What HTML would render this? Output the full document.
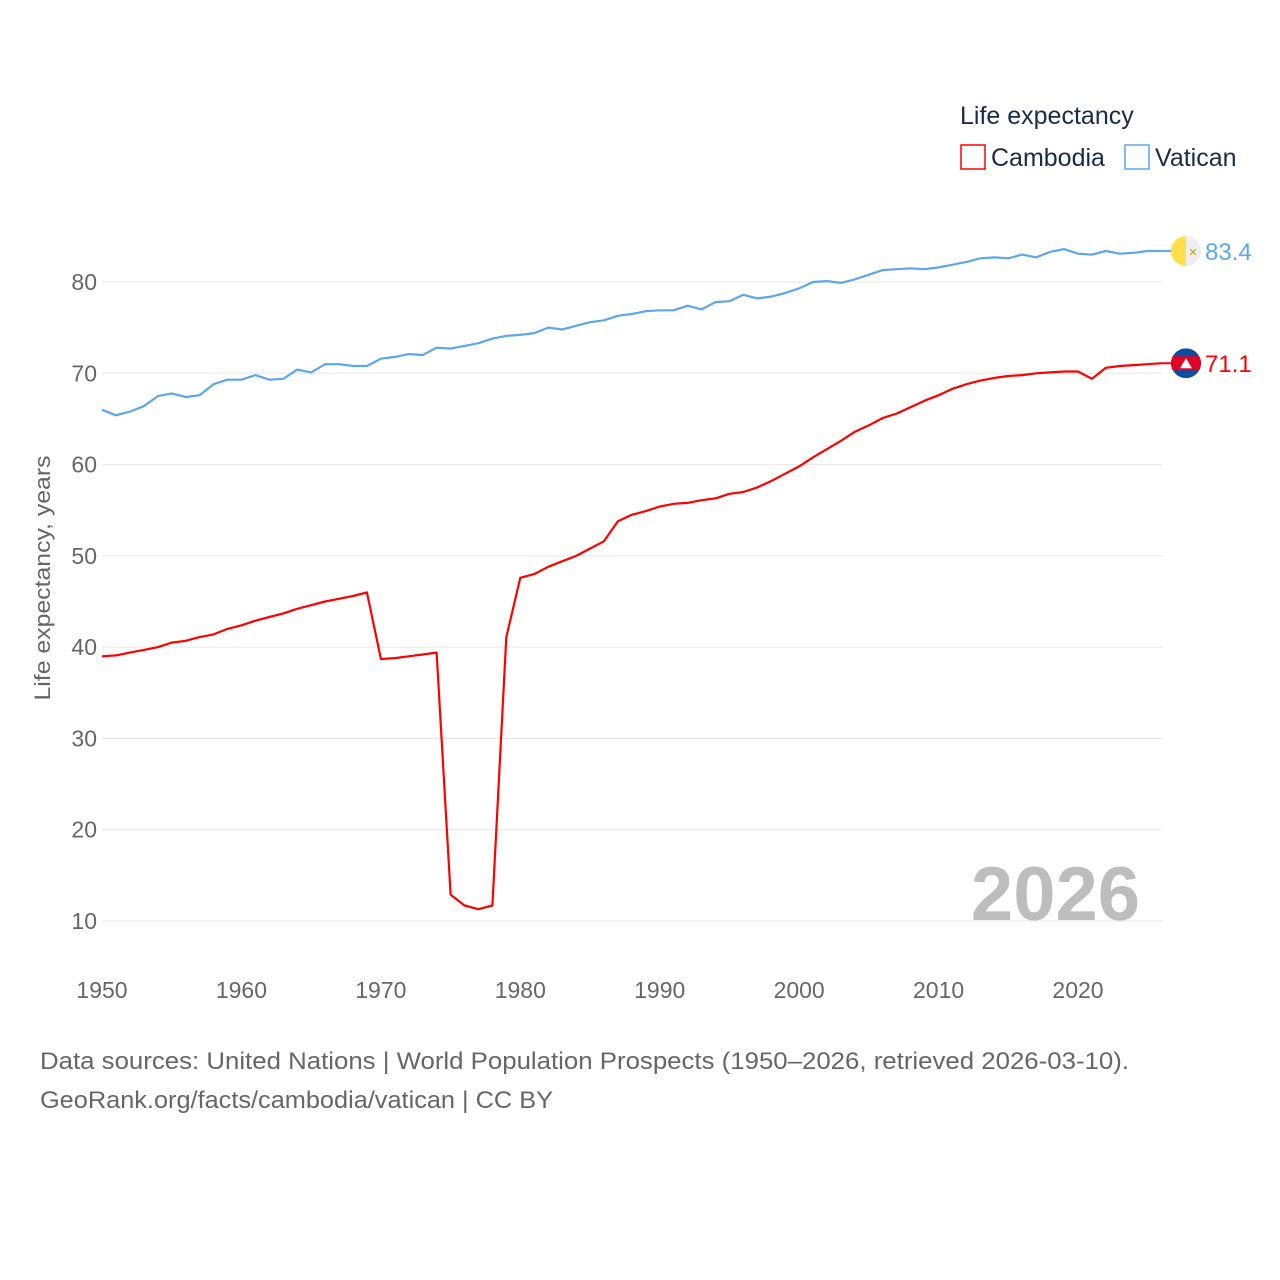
<!DOCTYPE html>
<html><head><meta charset="utf-8"><style>
html,body{margin:0;padding:0;background:#fff;}
svg{display:block;font-family:"Liberation Sans",sans-serif;}
</style></head><body>
<svg id="chart" width="1280" height="1280" viewBox="0 0 1280 1280">
<defs>
<clipPath id="clipV"><circle cx="1186" cy="250" r="15"/></clipPath>
<clipPath id="clipC"><circle cx="1186" cy="363" r="15"/></clipPath>
</defs>
<g id="grid"></g>
<g id="yticks"></g>
<g id="xticks"></g>
<text x="50" y="578" transform="rotate(-90 50 578)" text-anchor="middle" font-size="22" fill="#666" textLength="245" lengthAdjust="spacingAndGlyphs">Life expectancy, years</text>
<text x="1140" y="920" text-anchor="end" font-size="76" font-weight="bold" fill="#bdbdbd">2026</text>
<g id="lines"></g>
<g>
<text x="960" y="124" font-size="25" fill="#1a2b45">Life expectancy</text>
<g>
<rect x="961" y="145" width="24" height="24" fill="none" stroke="#ff0000" stroke-width="1.5"/>
<text x="991" y="166" font-size="25" fill="#1a2b45">Cambodia</text></g>
<g>
<rect x="1125" y="145" width="24" height="24" fill="none" stroke="#5ea6ea" stroke-width="1.5"/>
<text x="1155" y="166" font-size="25" fill="#1a2b45">Vatican</text></g>
</g>
<text x="40" y="1069" font-size="24" fill="#666" textLength="1089" lengthAdjust="spacingAndGlyphs">Data sources: United Nations | World Population Prospects (1950–2026, retrieved 2026-03-10).</text>
<text x="40" y="1108" font-size="24" fill="#666" textLength="513" lengthAdjust="spacingAndGlyphs">GeoRank.org/facts/cambodia/vatican | CC BY</text>
</svg>
<script>
const years = [];
for (let y = 1950; y <= 2026; y++) years.push(y);
const cambodia = [39.0,39.1,39.4,39.7,40.0,40.5,40.7,41.1,41.4,42.0,42.4,42.9,43.3,43.7,44.2,44.6,45.0,45.3,45.6,46.0,
38.7,38.8,39.0,39.2,39.4,12.9,11.7,11.3,11.7,41.1,47.6,48.0,48.8,49.4,50.0,50.8,51.6,53.8,54.5,54.9,
55.4,55.7,55.8,56.1,56.3,56.8,57.0,57.5,58.2,59.0,59.8,60.8,61.7,62.6,63.6,64.3,65.1,65.6,66.3,67.0,
67.6,68.3,68.8,69.2,69.5,69.7,69.8,70.0,70.1,70.2,70.2,69.4,70.6,70.8,70.9,71.0,71.1];
const vatican = [66.0,65.4,65.8,66.4,67.5,67.8,67.4,67.6,68.8,69.3,69.3,69.8,69.3,69.4,70.4,70.1,71.0,71.0,70.8,70.8,
71.6,71.8,72.1,72.0,72.8,72.7,73.0,73.3,73.8,74.1,74.2,74.4,75.0,74.8,75.2,75.6,75.8,76.3,76.5,76.8,
76.9,76.9,77.4,77.0,77.8,77.9,78.6,78.2,78.4,78.8,79.3,80.0,80.1,79.9,80.3,80.8,81.3,81.4,81.5,81.4,
81.6,81.9,82.2,82.6,82.7,82.6,83.0,82.7,83.3,83.6,83.1,83.0,83.4,83.1,83.2,83.4,83.4];
const yTicks = [10,20,30,40,50,60,70,80];
const xTicks = [1950,1960,1970,1980,1990,2000,2010,2020];
const NS = "http://www.w3.org/2000/svg";
const X = y => 102 + (y - 1950) * 13.943;
const Y = v => 282 + (80 - v) * 9.129;
function mk(tag, attrs, parent){const e=document.createElementNS(NS,tag);for(const k in attrs)e.setAttribute(k,attrs[k]);parent.appendChild(e);return e;}
const grid=document.getElementById('grid'), yt=document.getElementById('yticks'), xt=document.getElementById('xticks'), lines=document.getElementById('lines');
yTicks.forEach(v=>{
  const l=mk('line',{x1:102,x2:1162,y1:Y(v),y2:Y(v),stroke:'#e6e6e6','stroke-width':1},grid);
  
  
  const t=mk('text',{x:97,y:Y(v)+8,'text-anchor':'end','font-size':23,fill:'#666'},yt);
  t.textContent=v;
  
  
});
xTicks.forEach(v=>{
  const t=mk('text',{x:X(v),y:998,'text-anchor':'middle','font-size':23,fill:'#666'},xt);
  t.textContent=v;
  
  
});
function series(vals,color,name){
  const d=vals.map((v,i)=>(i?'L':'M')+X(years[i]).toFixed(1)+','+Y(v).toFixed(1)).join(' ');
  const p=mk('path',{d:d,fill:'none',stroke:color,'stroke-width':2.2,'stroke-linejoin':'round'},lines);
  
  
  const last=vals[vals.length-1], ly=Y(last);
  mk('line',{x1:X(2026),x2:1176,y1:ly,y2:ly,stroke:color,'stroke-width':2},lines);
  return ly;
}
const vy=series(vatican,'#5ea6ea','vatican');
const cy=series(cambodia,'#ff0000','cambodia');
document.querySelector('#clipV circle').setAttribute('cy',vy);
document.querySelector('#clipC circle').setAttribute('cy',cy);
// Vatican flag
const vf=mk('g',{'clip-path':'url(#clipV)'},lines);


mk('circle',{cx:1186,cy:vy,r:15,fill:'#eeeeee'},vf);
mk('rect',{x:1171,y:vy-15,width:15,height:30,fill:'#ffe04a'},vf);
mk('text',{x:1193,y:vy+5,'font-size':11,fill:'#c8a000','text-anchor':'middle'},vf).textContent='✕';
const vl=mk('text',{x:1205,y:vy+9,'font-size':24,fill:'#5ea6ea'},lines);
vl.textContent=vatican[vatican.length-1].toFixed(1);


// Cambodia flag
const cf=mk('g',{'clip-path':'url(#clipC)'},lines);


mk('circle',{cx:1186,cy:cy,r:15,fill:'#0b4ea2'},cf);
mk('rect',{x:1171,y:cy-7,width:30,height:14,fill:'#e00025'},cf);
mk('path',{d:`M1180,${cy+5} L1186,${cy-5} L1192,${cy+5} Z`,fill:'#fff'},cf);
const cl=mk('text',{x:1205,y:cy+9,'font-size':24,fill:'#ff0000'},lines);
cl.textContent=cambodia[cambodia.length-1].toFixed(1);


</script>
</body></html>
